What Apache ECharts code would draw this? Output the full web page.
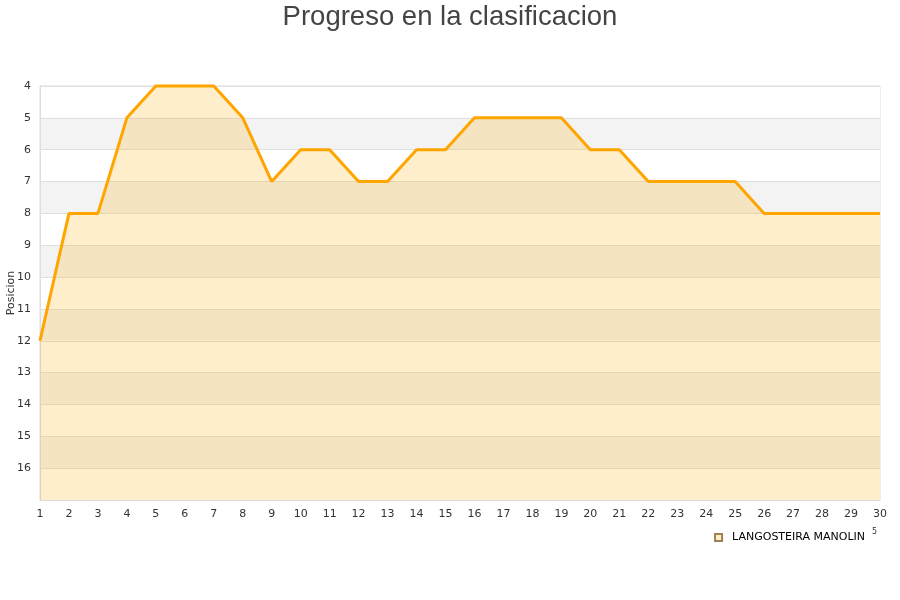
<!DOCTYPE html>
<html><head><meta charset="utf-8">
<script src="https://cdn.jsdelivr.net/npm/echarts@6/dist/echarts.min.js"></script>
<style>html,body{margin:0;padding:0;background:#fff}#c{width:900px;height:600px}</style>
</head><body><div id="c"></div>
<script>
const title = 'Progreso en la clasificacion';
const yAxisName = 'Posicion';
const seriesName = 'LANGOSTEIRA MANOLIN';
const jornadas = ['1','2','3','4','5','6','7','8','9','10','11','12','13','14','15','16','17','18','19','20','21','22','23','24','25','26','27','28','29','30'];
const posiciones = [12,8,8,5,4,4,4,5,7,6,6,7,7,6,6,5,5,5,5,6,6,7,7,7,7,8,8,8,8,8];
const yMin = 4, yMax = 17;

const chart = echarts.init(document.getElementById('c'));
chart.setOption({
  animation: false,
  backgroundColor: '#fff',
  title: { text: title, left: 'center', top: -2,
    textStyle: { fontFamily: 'Liberation Sans, Arial, sans-serif', fontSize: 27.5, fontWeight: 'normal', color: '#444' } },
  grid: { left: 40, right: 20, top: 86, bottom: 100, containLabel: false, outerBoundsMode: 'none',
    show: true, borderColor: '#dddddd', borderWidth: 1, backgroundColor: 'transparent' },
  legend: { data: [seriesName], right: 30, top: 527, itemWidth: 7, itemHeight: 7, icon: 'rect',
    textStyle: { fontFamily: 'DejaVu Sans, sans-serif', fontSize: 11, color: '#000', padding: [0, 0, 0, 5] } },
  graphic: [
    { type: 'text', left: 872, top: 528, style: { text: '5', fontSize: 8, fill: '#333', fontFamily: 'DejaVu Sans' } },
    { type: 'text', x: 11, y: 293, rotation: Math.PI / 2,
      style: { text: yAxisName, fontSize: 11, fill: '#333', fontFamily: 'DejaVu Sans', align: 'center', verticalAlign: 'middle' } }
  ],
  xAxis: { type: 'category', data: jornadas, boundaryGap: false,
    axisLine: { lineStyle: { color: '#dddddd' } }, axisTick: { show: false },
    axisLabel: { fontFamily: 'DejaVu Sans, sans-serif', fontSize: 11, color: '#333', margin: 9 },
    splitLine: { show: false } },
  yAxis: { type: 'value', inverse: true, min: yMin, max: yMax, interval: 1,
    axisLine: { show: true, lineStyle: { color: '#dddddd' } }, axisTick: { show: false },
    axisLabel: { fontFamily: 'DejaVu Sans, sans-serif', fontSize: 11, color: '#333', margin: 9,
      formatter: v => v >= yMax ? '' : String(v) },
    splitLine: { show: true, lineStyle: { color: '#e0e0e0' } },
    splitArea: { show: true, areaStyle: { color: ['#ffffff', '#f3f3f3'] } } },
  series: [{ name: seriesName, type: 'line', data: posiciones, showSymbol: false, symbol: 'none',
    clip: false,
    lineStyle: { color: '#ffa500', width: 3 },
    itemStyle: { color: '#ffeecc', borderColor: '#a08050', borderWidth: 1 },
    areaStyle: { color: 'rgba(255,170,0,0.2)', opacity: 1, origin: 'end' } }]
});
</script></body></html>
